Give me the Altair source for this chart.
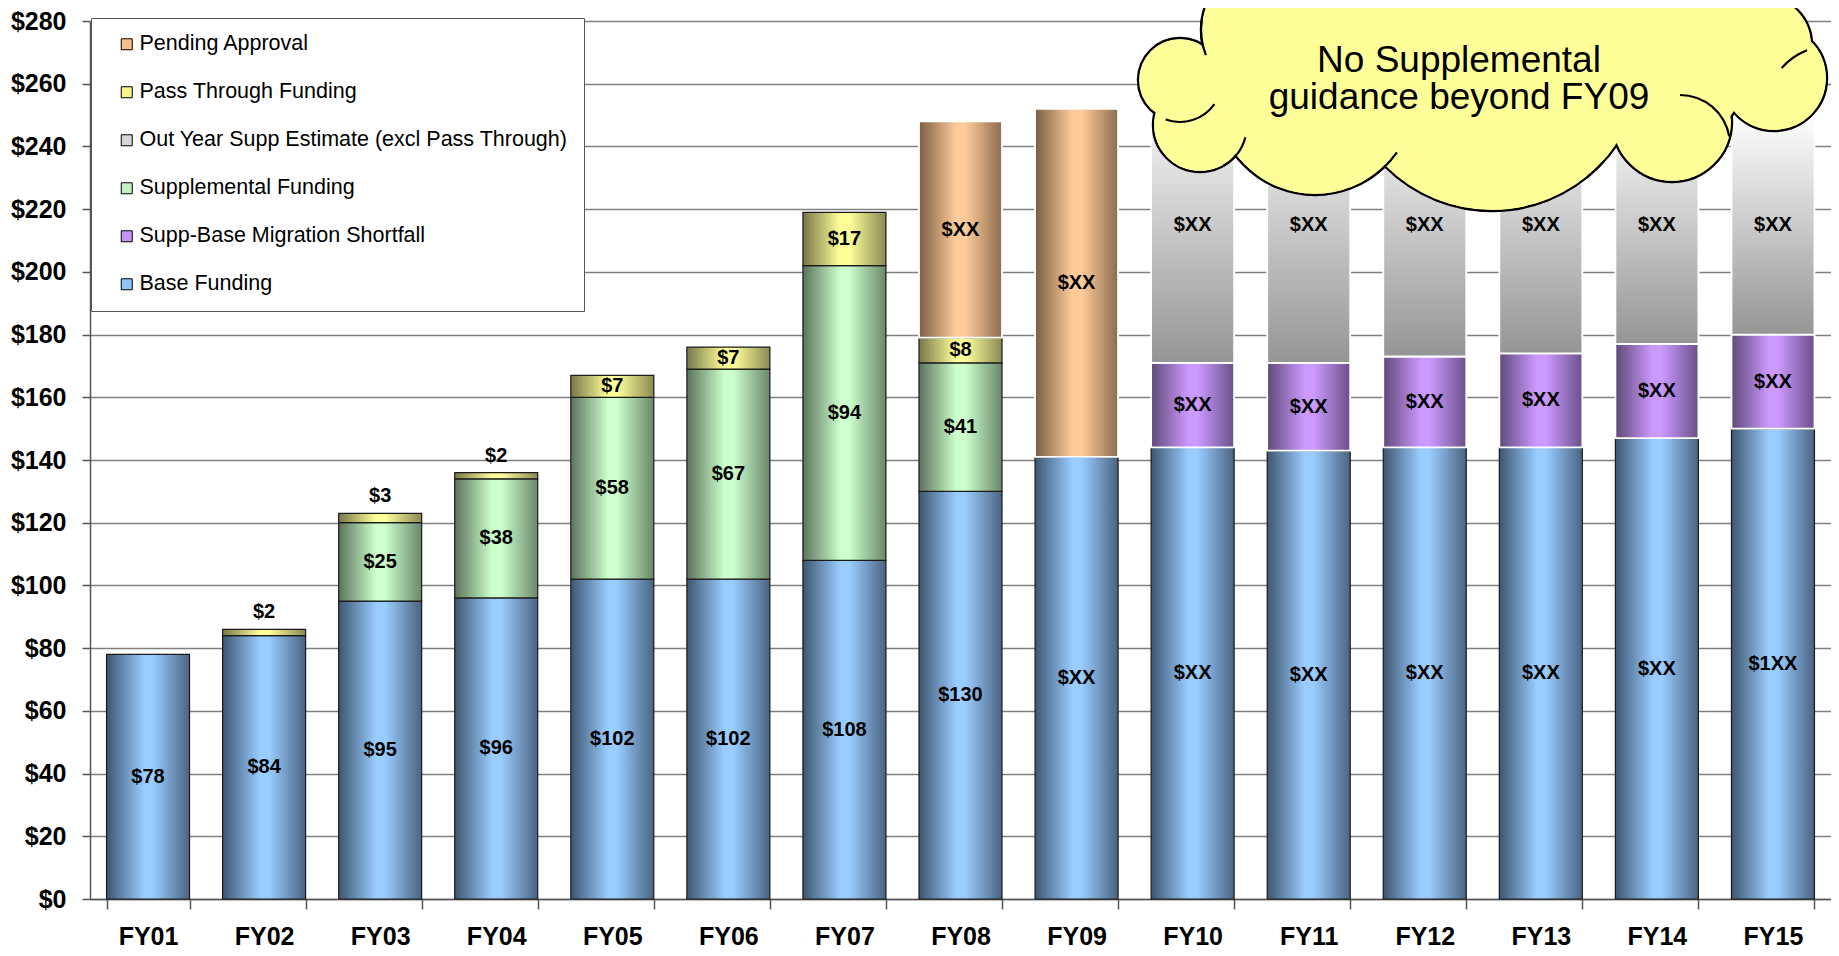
import math
import altair as alt
import pandas as pd

# ---------------- data ----------------
years = ["FY01", "FY02", "FY03", "FY04", "FY05", "FY06", "FY07", "FY08",
         "FY09", "FY10", "FY11", "FY12", "FY13", "FY14", "FY15"]

base_funding = [78, 84, 95, 96, 102, 102, 108, 130, 141, 144, 143, 144, 144, 147, 150]
migration_shortfall = [0, 0, 0, 0, 0, 0, 0, 0, 0, 27, 28, 29, 30, 30, 30]
supplemental_funding = [0, 0, 25, 38, 58, 67, 94, 41, 0, 0, 0, 0, 0, 0, 0]
pass_through_funding = [0, 2, 3, 2, 7, 7, 17, 8, 0, 0, 0, 0, 0, 0, 0]
out_year_estimate = [0, 0, 0, 0, 0, 0, 0, 0, 0, 88, 88, 84, 82, 76, 70]
pending_approval = [0, 0, 0, 0, 0, 0, 0, 69, 111, 0, 0, 0, 0, 0, 0]

base_labels = ["$78", "$84", "$95", "$96", "$102", "$102", "$108", "$130",
               "$XX", "$XX", "$XX", "$XX", "$XX", "$XX", "$1XX"]
shortfall_labels = [""] * 9 + ["$XX"] * 6
supplemental_labels = ["", "", "$25", "$38", "$58", "$67", "$94", "$41"] + [""] * 7
pass_through_labels = ["", "$2", "$3", "$2", "$7", "$7", "$17", "$8"] + [""] * 7
out_year_labels = [""] * 9 + ["$XX"] * 6
pending_labels = [""] * 7 + ["$XX", "$XX"] + [""] * 6

S_BASE = "Base Funding"
S_SHORT = "Supp-Base Migration Shortfall"
S_SUPP = "Supplemental Funding"
S_PASS = "Pass Through Funding"
S_OUT = "Out Year Supp Estimate (excl Pass Through)"
S_PEND = "Pending Approval"

legend_order = [S_PEND, S_PASS, S_OUT, S_SUPP, S_SHORT, S_BASE]
legend_colors = ["#f7c08f", "#f5f58c", "#d6d6d6", "#c4f0c4", "#c394f2", "#92c4f5"]

cloud_lines = ["No Supplemental", "guidance beyond FY09"]

# ---------------- build stacked table ----------------
stack = [
    (S_BASE, base_funding, base_labels),
    (S_SHORT, migration_shortfall, shortfall_labels),
    (S_SUPP, supplemental_funding, supplemental_labels),
    (S_PASS, pass_through_funding, pass_through_labels),
    (S_OUT, out_year_estimate, out_year_labels),
    (S_PEND, pending_approval, pending_labels),
]
rows = []
for i, yr in enumerate(years):
    cum = 0
    for name, vals, labs in stack:
        v = vals[i]
        if v > 0:
            rows.append(dict(year=yr, series=name, start=cum, end=cum + v,
                             mid=cum + v / 2, label=labs[i], value=v))
            cum += v
df = pd.DataFrame(rows)

# ---------------- styling ----------------
FONT = "Liberation Sans, Arial, Helvetica, sans-serif"
AXIS_GRAY = "#555555"


def hgrad(left, center, right):
    return {
        "gradient": "linear", "x1": 0, "x2": 1, "y1": 0, "y2": 0,
        "stops": [
            {"offset": 0, "color": left},
            {"offset": 0.45, "color": center},
            {"offset": 0.56, "color": center},
            {"offset": 1, "color": right},
        ],
    }


fills = {
    S_BASE: hgrad("#3e5670", "#99ccff", "#4a6482"),
    S_SHORT: hgrad("#5e4a78", "#cc99ff", "#6a5088"),
    S_SUPP: hgrad("#5c735c", "#ccffcc", "#6a886a"),
    S_PASS: hgrad("#77774a", "#ffff99", "#8a8a55"),
    S_PEND: hgrad("#7a5e44", "#ffcc99", "#8c6c50"),
    S_OUT: {
        "gradient": "linear", "x1": 0, "x2": 0, "y1": 0, "y2": 1,
        "stops": [{"offset": 0, "color": "#ffffff"}, {"offset": 1, "color": "#959595"}],
    },
}
strokes = {
    S_BASE: ("#1a1a1a", 1.2), S_SUPP: ("#1a1a1a", 1.2), S_PASS: ("#1a1a1a", 1.2),
    S_SHORT: ("#ffffff", 1.8), S_OUT: ("#ffffff", 1.8), S_PEND: ("#ffffff", 1.8),
}

x_axis = alt.Axis(title=None, labelAngle=0, labelFont=FONT, labelFontSize=25,
                  labelFontWeight="bold", labelColor="black", labelPadding=15,
                  tickSize=10, tickBand="extent", tickColor=AXIS_GRAY,
                  tickWidth=1.5, domainColor=AXIS_GRAY, domainWidth=1.5, grid=False)
y_axis = alt.Axis(title=None, values=list(range(0, 281, 20)),
                  labelExpr="'$' + datum.value", labelFont=FONT, labelFontSize=25,
                  labelFontWeight="bold", labelColor="black", labelPadding=16,
                  tickSize=8, tickColor=AXIS_GRAY, tickWidth=1.5,
                  domainColor=AXIS_GRAY, domainWidth=1.5,
                  grid=True, gridColor="#808080", gridWidth=1.6)

x_scale = alt.Scale(domain=years, paddingInner=0.285, paddingOuter=0.1425)
y_scale = alt.Scale(domain=[0, 280], nice=False, zero=True)


def xenc():
    return alt.X("year:N", sort=years, scale=x_scale, axis=x_axis)


def yenc(field):
    return alt.Y(f"{field}:Q", scale=y_scale, axis=y_axis)


layers = []

# invisible layer that carries the legend
layers.append(
    alt.Chart(df).mark_bar(opacity=0).encode(
        x=xenc(), y=yenc("start"), y2="end",
        color=alt.Color("series:N", scale=alt.Scale(domain=legend_order, range=legend_colors),
                        legend=alt.Legend(title=None, orient="none", legendX=1, legendY=-3,
                                          direction="vertical", symbolType="square",
                                          symbolSize=121, symbolStrokeColor="black",
                                          symbolStrokeWidth=1, symbolOpacity=1,
                                          symbolOffset=9.5,
                                          labelFont=FONT, labelFontSize=21.5,
                                          labelColor="black", labelOffset=2,
                                          labelLimit=800, rowPadding=25, padding=15.5,
                                          strokeColor="#555555", fillColor="white",
                                          cornerRadius=0)),
    )
)

# stacked bar segments
for name, _, _ in stack:
    sub = df[df.series == name]
    sc, sw = strokes[name]
    layers.append(
        alt.Chart(sub).mark_bar(fill=fills[name], stroke=sc, strokeWidth=sw).encode(
            x=xenc(), y=yenc("start"), y2="end")
    )

# value labels
small_pass = (df.series == S_PASS) & (df.value < 5)
inside = df[(~small_pass) & (df.label != "")]
above = df[small_pass]
text_style = dict(font=FONT, fontSize=20, fontWeight="bold", color="black",
                  align="center", baseline="middle")
layers.append(alt.Chart(inside).mark_text(**text_style).encode(
    x=xenc(), y=yenc("mid"), text="label:N"))
layers.append(alt.Chart(above).mark_text(dy=-17, **text_style).encode(
    x=xenc(), y=yenc("end"), text="label:N"))

# ---------------- callout cloud (annotation geometry, page-pixel units) ----------------
OX, OY = 90, 21  # plot origin on the page
cloud_circles = [
    (1180, 80, 42), (1200, 125, 47), (1315, 95, 100), (1492, 60, 151),
    (1672, 122, 60), (1690, 80, 55), (1630, 50, 40), (1774, 78, 53), (1762, 45, 50),
    (1720, 10, 45), (1660, -30, 80), (1500, -200, 280), (1268, 30, 67),
]
cloud_inner_arcs = [  # (cx, cy, r, start deg, end deg) clockwise from 12 o'clock
    (1268, 30, 67, 248, 278), (1180, 80, 42, 125, 200), (1200, 125, 47, 105, 150),
    (1315, 95, 100, 125, 150), (1492, 60, 151, 132, 141), (1680, 145, 50, 0, 80),
    (1830, 110, 64, 311, 339),
]
CLOUD_FILL = "#ffff99"
one = pd.DataFrame({"k": [0]})
# symbol size is the area of the bounding square: (2r)^2
for cx, cy, r in cloud_circles:
    layers.append(alt.Chart(one).mark_circle(fill=CLOUD_FILL, stroke="black", strokeWidth=2.4,
                                             opacity=1, fillOpacity=1).encode(
        x=alt.value(cx - OX), y=alt.value(cy - OY), size=alt.value((2 * r) ** 2)))
for cx, cy, r in cloud_circles:
    rr = r - 1.2
    layers.append(alt.Chart(one).mark_circle(fill=CLOUD_FILL, strokeWidth=0,
                                             opacity=1, fillOpacity=1).encode(
        x=alt.value(cx - OX), y=alt.value(cy - OY), size=alt.value((2 * rr) ** 2)))
for cx, cy, r, a0, a1 in cloud_inner_arcs:
    layers.append(alt.Chart(one).mark_arc(theta=math.radians(a0), theta2=math.radians(a1),
                                          radius=r + 1.1, radius2=r - 1.1, color="black",
                                          opacity=1).encode(
        x=alt.value(cx - OX), y=alt.value(cy - OY)))
# two-line callout text; the baseline applies to the first line
layers.append(alt.Chart(one).mark_text(text=cloud_lines, font=FONT, fontSize=37, lineHeight=37,
                                       color="black", align="center", baseline="middle").encode(
    x=alt.value(1459 - OX), y=alt.value(61 - OY)))

chart = alt.layer(*layers).properties(
    width=1741, height=878,
    autosize=alt.AutoSizeParams(type="none"),
    padding={"left": 82, "top": 13, "right": 0, "bottom": 49},
).configure_view(stroke=None).configure(background="white")

chart.save("out.html", embed_options={"renderer": "svg", "actions": False})
